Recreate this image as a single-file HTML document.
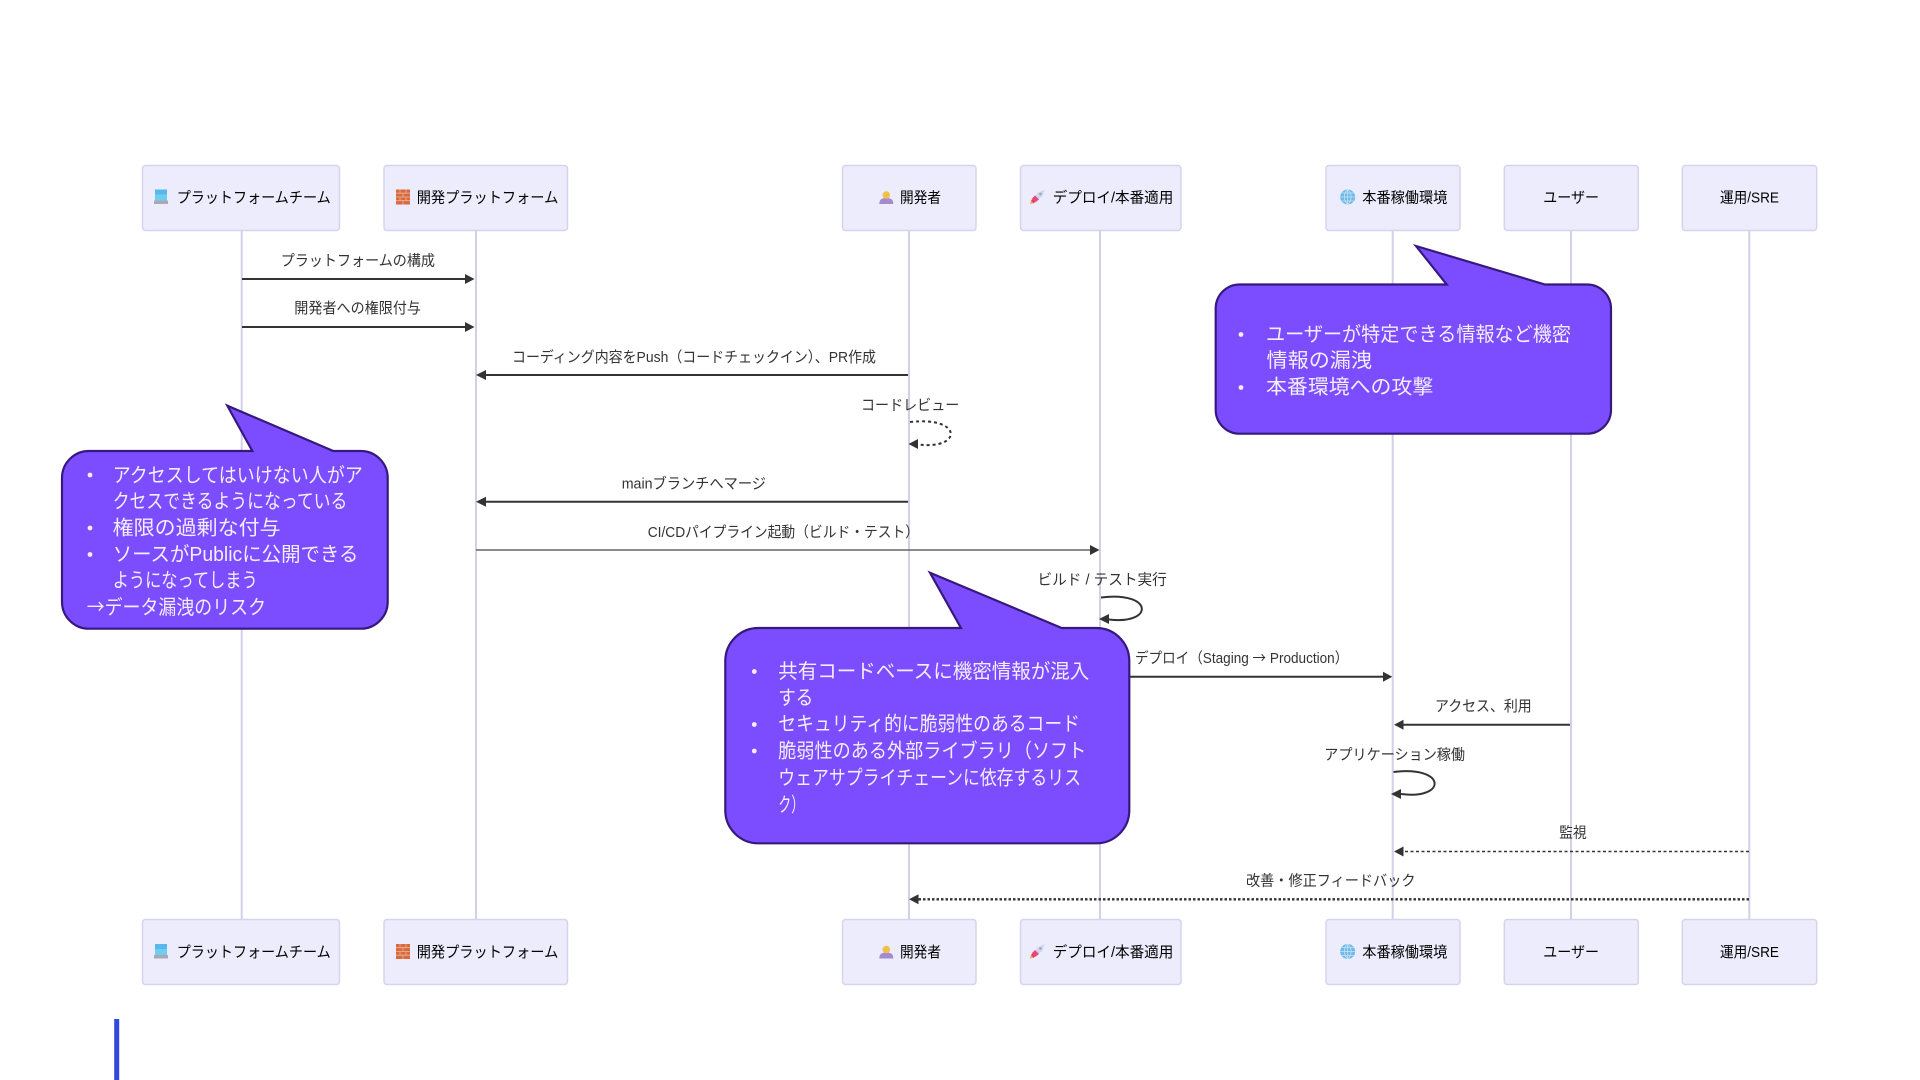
<!DOCTYPE html>
<html lang="ja">
<head>
<meta charset="utf-8">
<title>Sequence diagram</title>
<style>
html,body{margin:0;padding:0;background:#fff;width:1920px;height:1080px;overflow:hidden}
svg{display:block}
text{font-family:"Liberation Sans","Noto Sans CJK JP",sans-serif}
.j{font-family:"Noto Sans CJK JP",sans-serif}
.a{font-size:15px;fill:#000}
.m{font-size:15px;fill:#333}
.c{font-size:20px;fill:#f2edff}
.box{fill:#ececfc;stroke:#d6d4ec;stroke-width:1.5}
.life{stroke:#d2d0e8;stroke-width:2}
.msg{stroke:#333;stroke-width:2;fill:none}
.head{fill:#333}
.call{fill:#7c4dff;stroke:#36197f;stroke-width:2.2}
.bu{fill:#f2edff}
</style>
</head>
<body>
<svg xmlns="http://www.w3.org/2000/svg" width="1920" height="1080" viewBox="0 0 1920 1080">
<defs>
<g id="laptop"><rect x="1" y="0" width="12" height="11" fill="#6fcdf4"/><rect x="1" y="0" width="12" height="5" fill="#58b8ea"/><rect x="0" y="11" width="14" height="3.5" fill="#a9a9b4"/></g>
<g id="brick"><rect x="0" y="0" width="14" height="15" fill="#d9693f"/><path d="M0 3.7H14M0 7.5H14M0 11.2H14M4 0V3.7M10 0V3.7M7 3.7V7.5M4 7.5V11.2M10 7.5V11.2M7 11.2V15" stroke="#eab59b" stroke-width=".8" fill="none"/></g>
<g id="person"><path d="M0 14C0 9 3 8 7 8S14 9 14 14Z" fill="#a58ad0"/><circle cx="7" cy="5" r="3.8" fill="#f0c14a"/></g>
<g id="rocket"><path d="M15 0L12 7L6 12L3 9L8 3Z" fill="#d9d4e4"/><path d="M3 9L6 12L3 14L1 11Z" fill="#e0386c"/><path d="M5 6L9 10L5 13L2 9Z" fill="#e8477c"/><path d="M1 11L3 13L0 15Z" fill="#f2a33a"/><circle cx="10.5" cy="4.5" r="1.4" fill="#7fb4e0"/></g>
<g id="globe"><circle cx="7.5" cy="7.5" r="7.5" fill="#6db9e8"/><path d="M0 7.5H15M1.5 3.5H13.5M1.5 11.5H13.5M7.5 0V15M7.5 0C3 4 3 11 7.5 15M7.5 0C12 4 12 11 7.5 15" stroke="#c8e4f5" stroke-width=".8" fill="none"/></g>
</defs>

<rect x="114.2" y="1019" width="5" height="61" fill="#3048dc"/>

<!-- lifelines -->
<line class="life" x1="241.7" y1="230" x2="241.7" y2="920"/>
<line class="life" x1="476" y1="230" x2="476" y2="920"/>
<line class="life" x1="909" y1="230" x2="909" y2="920"/>
<line class="life" x1="1100" y1="230" x2="1100" y2="920"/>
<line class="life" x1="1392.7" y1="230" x2="1392.7" y2="920"/>
<line class="life" x1="1571" y1="230" x2="1571" y2="920"/>
<line class="life" x1="1749.3" y1="230" x2="1749.3" y2="920"/>

<!-- top actors -->
<rect class="box" x="142.5" y="165.5" width="197" height="65" rx="3"/>
<rect class="box" x="384" y="165.5" width="183.5" height="65" rx="3"/>
<rect class="box" x="842.5" y="165.5" width="133.5" height="65" rx="3"/>
<rect class="box" x="1020.5" y="165.5" width="160.5" height="65" rx="3"/>
<rect class="box" x="1326" y="165.5" width="134" height="65" rx="3"/>
<rect class="box" x="1504.3" y="165.5" width="134" height="65" rx="3"/>
<rect class="box" x="1682.3" y="165.5" width="134.4" height="65" rx="3"/>
<use href="#laptop" x="154" y="189.5"/>
<use href="#brick" x="396" y="189.5"/>
<use href="#person" x="879.3" y="190"/>
<use href="#rocket" x="1030" y="189.5"/>
<use href="#globe" x="1340.2" y="189.5"/>
<text class="a" x="176.7" y="202.5" textLength="154" lengthAdjust="spacingAndGlyphs">プラットフォームチーム</text>
<text class="a" x="416.7" y="202.5" textLength="141.6" lengthAdjust="spacingAndGlyphs">開発プラットフォーム</text>
<text class="a" x="900" y="202.5" textLength="41" lengthAdjust="spacingAndGlyphs">開発者</text>
<text class="a" x="1052.7" y="202.5" textLength="120.6" lengthAdjust="spacingAndGlyphs">デプロイ/本番適用</text>
<text class="a" x="1362.3" y="202.5" textLength="85" lengthAdjust="spacingAndGlyphs">本番稼働環境</text>
<text class="a" x="1543.3" y="202.5" textLength="55.7" lengthAdjust="spacingAndGlyphs">ユーザー</text>
<text class="a" x="1720" y="202.5" textLength="59" lengthAdjust="spacingAndGlyphs">運用/SRE</text>

<!-- bottom actors -->
<rect class="box" x="142.5" y="919.5" width="197" height="65" rx="3"/>
<rect class="box" x="384" y="919.5" width="183.5" height="65" rx="3"/>
<rect class="box" x="842.5" y="919.5" width="133.5" height="65" rx="3"/>
<rect class="box" x="1020.5" y="919.5" width="160.5" height="65" rx="3"/>
<rect class="box" x="1326" y="919.5" width="134" height="65" rx="3"/>
<rect class="box" x="1504.3" y="919.5" width="134" height="65" rx="3"/>
<rect class="box" x="1682.3" y="919.5" width="134.4" height="65" rx="3"/>
<use href="#laptop" x="154" y="944"/>
<use href="#brick" x="396" y="944"/>
<use href="#person" x="879.3" y="944.5"/>
<use href="#rocket" x="1030" y="944"/>
<use href="#globe" x="1340.2" y="944"/>
<text class="a" x="176.7" y="957" textLength="154" lengthAdjust="spacingAndGlyphs">プラットフォームチーム</text>
<text class="a" x="416.7" y="957" textLength="141.6" lengthAdjust="spacingAndGlyphs">開発プラットフォーム</text>
<text class="a" x="900" y="957" textLength="41" lengthAdjust="spacingAndGlyphs">開発者</text>
<text class="a" x="1052.7" y="957" textLength="120.6" lengthAdjust="spacingAndGlyphs">デプロイ/本番適用</text>
<text class="a" x="1362.3" y="957" textLength="85" lengthAdjust="spacingAndGlyphs">本番稼働環境</text>
<text class="a" x="1543.3" y="957" textLength="55.7" lengthAdjust="spacingAndGlyphs">ユーザー</text>
<text class="a" x="1720" y="957" textLength="59" lengthAdjust="spacingAndGlyphs">運用/SRE</text>

<!-- messages -->
<text class="m" x="280.7" y="265.5" textLength="154.3" lengthAdjust="spacingAndGlyphs">プラットフォームの構成</text>
<line class="msg" x1="242" y1="279" x2="466" y2="279"/>
<path class="head" d="M474.5 279L465 274V284Z"/>

<text class="m" x="294.3" y="313" textLength="126.7" lengthAdjust="spacingAndGlyphs">開発者への権限付与</text>
<line class="msg" x1="242" y1="327" x2="466" y2="327"/>
<path class="head" d="M474.5 327L465 322V332Z"/>

<text class="m" x="512" y="362" textLength="364" lengthAdjust="spacingAndGlyphs">コーディング内容をPush（コードチェックイン）、PR作成</text>
<line class="msg" x1="908" y1="375" x2="485" y2="375"/>
<path class="head" d="M476 375L486 370V380Z"/>

<text class="m" x="861" y="410" textLength="98.3" lengthAdjust="spacingAndGlyphs">コードレビュー</text>
<path d="M910 422C963 416 963 450 918 444.5" fill="none" stroke="#333" stroke-width="2" stroke-dasharray="3,3"/>
<path class="head" d="M908.5 444L918 439V449Z"/>

<text class="m" x="621.7" y="488.5" textLength="144.3" lengthAdjust="spacingAndGlyphs">mainブランチへマージ</text>
<line class="msg" x1="908" y1="501.7" x2="485" y2="501.7" stroke-width="2.2"/>
<path class="head" d="M476 501.7L486 496.7V506.7Z"/>

<text class="m" x="647.7" y="537" textLength="271.3" lengthAdjust="spacingAndGlyphs">CI/CDパイプライン起動（ビルド・テスト）</text>
<line x1="476" y1="550" x2="1090" y2="550" stroke="#666" stroke-width="1.4"/>
<path class="head" d="M1099.5 550L1090 545V555Z"/>

<text class="m" x="1037.5" y="584.5" textLength="129.2" lengthAdjust="spacingAndGlyphs">ビルド / テスト実行</text>
<path d="M1101 597.5C1154 591 1154 625 1109 619.5" fill="none" stroke="#333" stroke-width="2"/>
<path class="head" d="M1099 619L1109 614V624Z"/>

<text class="m" x="1135" y="663" textLength="213.3" lengthAdjust="spacingAndGlyphs">デプロイ（Staging <tspan class="j">→</tspan> Production）</text>
<line class="msg" x1="1100" y1="676.7" x2="1384" y2="676.7"/>
<path class="head" d="M1392.3 676.7L1383 671.7V681.7Z"/>

<text class="m" x="1435" y="711" textLength="96.7" lengthAdjust="spacingAndGlyphs">アクセス、利用</text>
<line class="msg" x1="1570" y1="724.7" x2="1403" y2="724.7"/>
<path class="head" d="M1394 724.7L1403.5 719.7V729.7Z"/>

<text class="m" x="1324.3" y="759.5" textLength="140.7" lengthAdjust="spacingAndGlyphs">アプリケーション稼働</text>
<path d="M1393.5 772C1447 765.5 1447 800 1401 794" fill="none" stroke="#333" stroke-width="2"/>
<path class="head" d="M1391 794L1401 789V799Z"/>

<text class="m" x="1559.3" y="837.5" textLength="27.4" lengthAdjust="spacingAndGlyphs">監視</text>
<line x1="1749" y1="851.5" x2="1402" y2="851.5" stroke="#333" stroke-width="1.6" stroke-dasharray="3,2.5"/>
<path class="head" d="M1394 851.5L1403.5 846.5V856.5Z"/>

<text class="m" x="1246" y="885.5" textLength="169.5" lengthAdjust="spacingAndGlyphs">改善・修正フィードバック</text>
<line x1="1749" y1="899.3" x2="918" y2="899.3" stroke="#333" stroke-width="2.4" stroke-dasharray="2.5,2"/>
<path class="head" d="M909 899.3L918.5 894.3V904.3Z"/>

<!-- callouts -->
<path class="call" d="M89 451H252.3L227.3 405.7L333.3 451H360.7A27 27 0 0 1 387.7 478V601.7A27 27 0 0 1 360.7 628.7H89A27 27 0 0 1 62 601.7V478A27 27 0 0 1 89 451Z"/>
<circle class="bu" cx="90" cy="475" r="2.4"/>
<circle class="bu" cx="90" cy="528" r="2.4"/>
<circle class="bu" cx="90" cy="554.5" r="2.4"/>
<text class="c" x="112.7" y="482" textLength="250" lengthAdjust="spacingAndGlyphs">アクセスしてはいけない人がア</text>
<text class="c" x="112.7" y="508" textLength="234.7" lengthAdjust="spacingAndGlyphs">クセスできるようになっている</text>
<text class="c" x="112.7" y="534.5" textLength="168" lengthAdjust="spacingAndGlyphs">権限の過剰な付与</text>
<text class="c" x="112.7" y="561" textLength="245.7" lengthAdjust="spacingAndGlyphs">ソースがPublicに公開できる</text>
<text class="c" x="112.7" y="587" textLength="145" lengthAdjust="spacingAndGlyphs">ようになってしまう</text>
<text class="c" x="86.7" y="614" textLength="179.3" lengthAdjust="spacingAndGlyphs"><tspan class="j">→</tspan>データ漏洩のリスク</text>

<path class="call" d="M758.3 628H961L930 572.7L1061.7 628H1096.3A33 33 0 0 1 1129.3 661V810.3A33 33 0 0 1 1096.3 843.3H758.3A33 33 0 0 1 725.3 810.3V661A33 33 0 0 1 758.3 628Z"/>
<circle class="bu" cx="754.3" cy="671.5" r="2.4"/>
<circle class="bu" cx="754.3" cy="724.5" r="2.4"/>
<circle class="bu" cx="754.3" cy="751" r="2.4"/>
<text class="c" x="778.3" y="678" textLength="311" lengthAdjust="spacingAndGlyphs">共有コードベースに機密情報が混入</text>
<text class="c" x="778.3" y="704.3" textLength="35" lengthAdjust="spacingAndGlyphs">する</text>
<text class="c" x="778.3" y="730.7" textLength="301.7" lengthAdjust="spacingAndGlyphs">セキュリティ的に脆弱性のあるコード</text>
<text class="c" x="778.3" y="757.3" textLength="308" lengthAdjust="spacingAndGlyphs">脆弱性のある外部ライブラリ（ソフト</text>
<text class="c" x="778.3" y="784.3" textLength="302.7" lengthAdjust="spacingAndGlyphs">ウェアサプライチェーンに依存するリス</text>
<text class="c" x="778.3" y="811.3" textLength="26" lengthAdjust="spacingAndGlyphs">ク）</text>

<path class="call" d="M1239.7 284.5H1446.7L1416 246L1545 284.5H1587A24 24 0 0 1 1611 308.5V409.7A24 24 0 0 1 1587 433.7H1239.7A24 24 0 0 1 1215.7 409.7V308.5A24 24 0 0 1 1239.7 284.5Z"/>
<circle class="bu" cx="1241" cy="334.5" r="2.4"/>
<circle class="bu" cx="1241" cy="387.5" r="2.4"/>
<text class="c" x="1266" y="341" textLength="305" lengthAdjust="spacingAndGlyphs">ユーザーが特定できる情報など機密</text>
<text class="c" x="1266.5" y="367" textLength="105.5" lengthAdjust="spacingAndGlyphs">情報の漏洩</text>
<text class="c" x="1266" y="393.7" textLength="167.3" lengthAdjust="spacingAndGlyphs">本番環境への攻撃</text>
</svg>
</body>
</html>
